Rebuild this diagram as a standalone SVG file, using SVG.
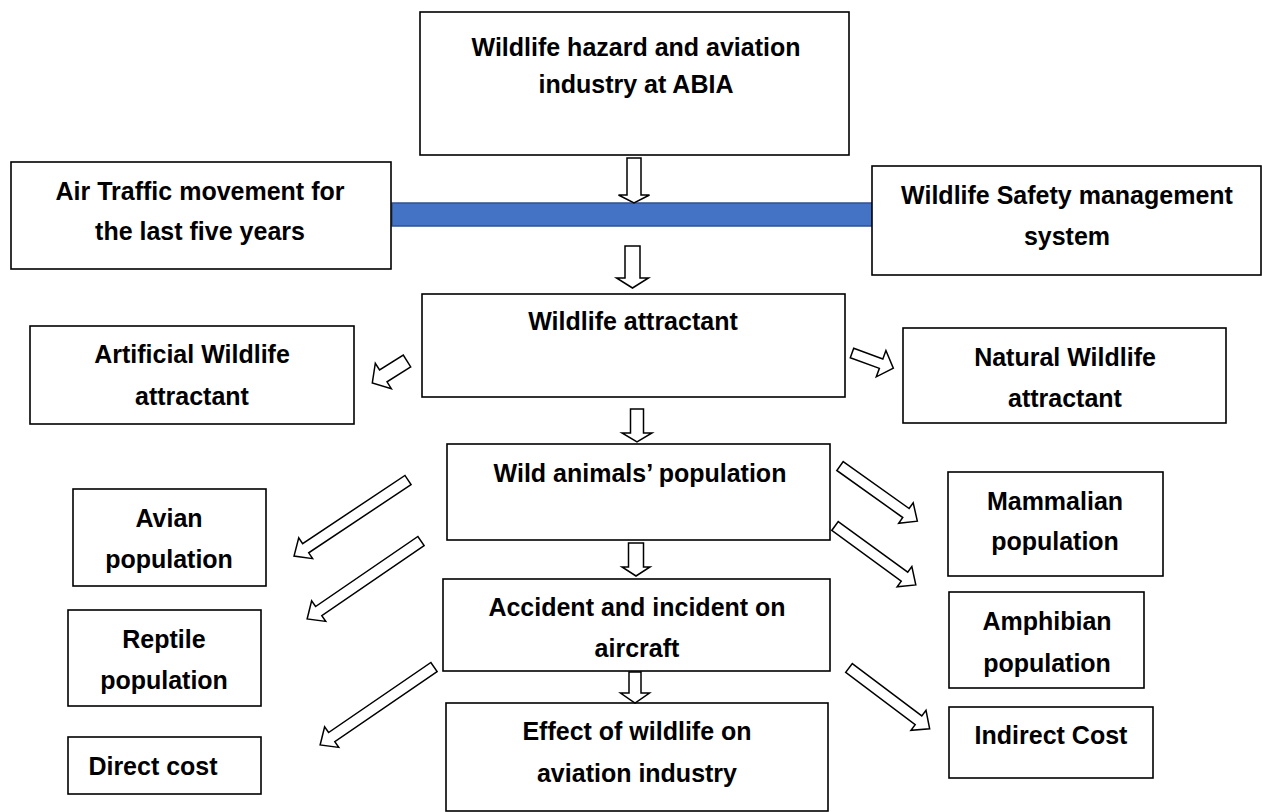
<svg xmlns="http://www.w3.org/2000/svg" width="1262" height="812" viewBox="0 0 1262 812">
<style>
.box{fill:#fff;stroke:#000;stroke-width:1.6}
.t{font-family:"Liberation Sans",Arial,sans-serif;font-weight:bold;font-size:25px;fill:#000;text-anchor:middle}
.arr{fill:#fff;stroke:#000;stroke-width:1.5;stroke-linejoin:miter}
</style>
<rect width="1262" height="812" fill="#fff"/>
<g id="bar"><rect x="392" y="203" width="481" height="23" fill="#4472C4" stroke="#2F528F" stroke-width="1.5"/></g>
<g id="n-top"><rect class="box" x="420" y="12" width="429" height="143"/><text class="t" x="636" y="56">Wildlife hazard and aviation</text><text class="t" x="636" y="93">industry at ABIA</text></g>
<g id="n-air"><rect class="box" x="11" y="162" width="380" height="107"/><text class="t" x="200" y="200">Air Traffic movement for</text><text class="t" x="200" y="240">the last five years</text></g>
<g id="n-wsms"><rect class="box" x="872" y="166" width="389" height="109"/><text class="t" x="1067" y="204">Wildlife Safety management</text><text class="t" x="1067" y="245">system</text></g>
<g id="n-attr"><rect class="box" x="422" y="294" width="423" height="103"/><text class="t" x="633" y="330">Wildlife attractant</text></g>
<g id="n-art"><rect class="box" x="30" y="326" width="324" height="98"/><text class="t" x="192" y="363">Artificial Wildlife</text><text class="t" x="192" y="405">attractant</text></g>
<g id="n-nat"><rect class="box" x="903" y="328" width="323" height="95"/><text class="t" x="1065" y="366">Natural Wildlife</text><text class="t" x="1065" y="407">attractant</text></g>
<g id="n-wild"><rect class="box" x="447" y="444" width="383" height="96"/><text class="t" x="640" y="482">Wild animals’ population</text></g>
<g id="n-avian"><rect class="box" x="73" y="489" width="193" height="97"/><text class="t" x="169" y="527">Avian</text><text class="t" x="169" y="568">population</text></g>
<g id="n-mamm"><rect class="box" x="948" y="472" width="215" height="104"/><text class="t" x="1055" y="510">Mammalian</text><text class="t" x="1055" y="550">population</text></g>
<g id="n-rept"><rect class="box" x="68" y="610" width="193" height="96"/><text class="t" x="164" y="648">Reptile</text><text class="t" x="164" y="689">population</text></g>
<g id="n-acc"><rect class="box" x="443" y="579" width="387" height="92"/><text class="t" x="637" y="616">Accident and incident on</text><text class="t" x="637" y="657">aircraft</text></g>
<g id="n-amph"><rect class="box" x="949" y="592" width="195" height="96"/><text class="t" x="1047" y="630">Amphibian</text><text class="t" x="1047" y="672">population</text></g>
<g id="n-direct"><rect class="box" x="68" y="737" width="193" height="57"/><text class="t" x="153" y="775">Direct cost</text></g>
<g id="n-effect"><rect class="box" x="446" y="703" width="382" height="108"/><text class="t" x="637" y="740">Effect of wildlife on</text><text class="t" x="637" y="782">aviation industry</text></g>
<g id="n-indirect"><rect class="box" x="949" y="707" width="204" height="71"/><text class="t" x="1051" y="744">Indirect Cost</text></g>
<g id="connectors">
<path class="arr" transform="translate(634,158) rotate(90)" d="M0,-7H37V-15.5L45,0L37,15.5V7H0Z"/>
<path class="arr" transform="translate(632.5,246) rotate(90)" d="M0,-7.5H32V-16L42,0L32,16V7.5H0Z"/>
<path class="arr" transform="translate(637,409) rotate(90)" d="M0,-6.5H24V-15L33,0L24,15V6.5H0Z"/>
<path class="arr" transform="translate(636,543) rotate(90)" d="M0,-7.5H24V-14L33,0L24,14V7.5H0Z"/>
<path class="arr" transform="translate(635,672) rotate(90)" d="M0,-6H21V-14.5L31,0L21,14.5V6H0Z"/>
<path class="arr" transform="translate(407,361) rotate(147.8)" d="M0,-7H28V-15L41,0L28,15V7H0Z"/>
<path class="arr" transform="translate(852,353) rotate(20.1)" d="M0,-5H31V-14L44,0L31,14V5H0Z"/>
<path class="arr" transform="translate(408,480) rotate(146.3)" d="M0,-5.5H123V-12.5L137,0L123,12.5V5.5H0Z"/>
<path class="arr" transform="translate(421,541) rotate(145.6)" d="M0,-5.5H124V-12.5L138,0L124,12.5V5.5H0Z"/>
<path class="arr" transform="translate(434,667) rotate(145.6)" d="M0,-5.5H124V-12.5L138,0L124,12.5V5.5H0Z"/>
<path class="arr" transform="translate(840,466) rotate(35.5)" d="M0,-5.5H81V-12.5L95,0L81,12.5V5.5H0Z"/>
<path class="arr" transform="translate(835,526) rotate(36.1)" d="M0,-5.5H86V-12.5L100,0L86,12.5V5.5H0Z"/>
<path class="arr" transform="translate(849,668) rotate(37)" d="M0,-5.5H87V-12.5L101,0L87,12.5V5.5H0Z"/>
</g>
</svg>
